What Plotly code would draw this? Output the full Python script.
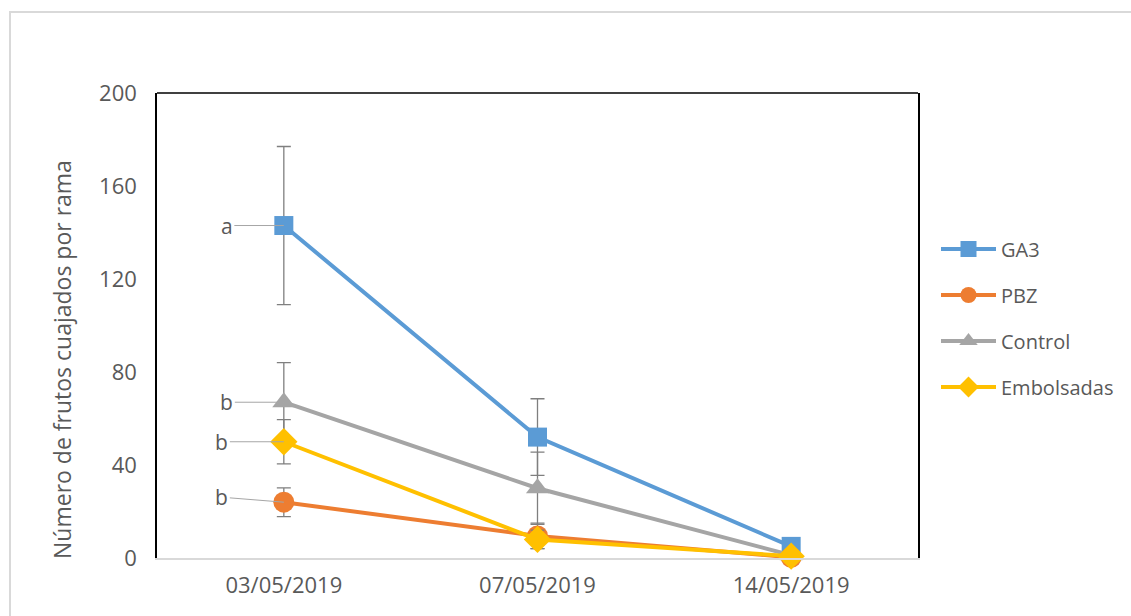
import plotly.graph_objects as go

# Fechas de muestreo
fechas = ["03/05/2019", "07/05/2019", "14/05/2019"]

# Frutos cuajados por rama (media) y error estándar por tratamiento
ga3 = [143, 52, 5]
ga3_err = [34, 16.5, 0]
pbz = [24, 9.5, 0.3]
pbz_err = [6.2, 5.5, 0]
control = [67, 30, 1.2]
control_err = [17, 15.5, 0]
embolsadas = [50, 8, 0.8]
embolsadas_err = [9.5, 4, 0]

# Letras de significancia en la primera fecha
letras = ["a", "b", "b", "b"]

FONT = "Open Sans"
TXT = "#595959"

series = [
    ("GA3", ga3, ga3_err, "#5B9BD5", "square", 19),
    ("PBZ", pbz, pbz_err, "#ED7D31", "circle", 21),
    ("Control", control, control_err, "#A5A5A5", "triangle-up", 20),
    ("Embolsadas", embolsadas, embolsadas_err, "#FFC000", "diamond", 21),
]

fig = go.Figure()
for name, vals, errs, color, sym, size in series:
    fig.add_trace(go.Scatter(
        x=fechas, y=vals, name=name, mode="lines+markers",
        legendgroup=name,
        line=dict(color=color, width=4),
        marker=dict(color=color, symbol=sym, size=size),
        error_y=dict(type="data", array=errs, visible=True,
                     color="#7f7f7f", thickness=1.3, width=7),
        cliponaxis=False,
    ))

# Letras con líneas guía hacia el primer punto de cada serie
offsets = [(-57, 0), (-62, -5), (-57, 0), (-62, 0)]
for (name, vals, _, _, _, _), letra, (ax, ay) in zip(series, letras, offsets):
    fig.add_annotation(
        x=fechas[0], y=vals[0], text=letra, showarrow=True,
        ax=ax, ay=ay, arrowhead=0, arrowwidth=1, arrowcolor="#a6a6a6",
        standoff=0, startstandoff=0,
        font=dict(family=FONT, size=21, color=TXT),
    )

L, R, T, B = 157, 213, 93, 58
W, H = 1131, 616
pw, ph = W - L - R, H - T - B

# Título del eje Y
fig.add_annotation(
    xref="paper", yref="paper", x=(62 - L) / pw, y=(H - B - 360) / ph,
    text="Número de frutos cuajados por rama", textangle=-90,
    showarrow=False, xanchor="center", yanchor="middle",
    font=dict(family=FONT, size=23, color=TXT),
)

# Marco exterior del gráfico
fig.add_shape(type="rect", xref="paper", yref="paper",
              x0=(10 - L) / pw, x1=(W + 20 - L) / pw,
              y0=(H - B - (H + 20)) / ph, y1=(H - B - 12) / ph,
              line=dict(color="#d9d9d9", width=2), layer="below")
# Borde superior del área de trazado
fig.add_shape(type="line", xref="paper", yref="paper",
              x0=0, x1=1, y0=1, y1=1, line=dict(color="black", width=1.5))

fig.update_layout(
    width=W, height=H,
    margin=dict(l=L, r=R, t=T, b=B, autoexpand=False),
    paper_bgcolor="white", plot_bgcolor="white",
    font=dict(family=FONT, size=20, color=TXT),
    showlegend=True,
    legend=dict(x=(936 - L) / pw, y=(H - B - 318) / ph, xanchor="left", yanchor="middle",
                font=dict(family=FONT, size=20, color=TXT),
                tracegroupgap=17, itemwidth=55, bgcolor="rgba(0,0,0,0)"),
    xaxis=dict(type="category", range=[-0.5, 2.5], showgrid=False,
               showline=True, linecolor="#d9d9d9", linewidth=1.5,
               ticks="", ticklabelstandoff=7,
               tickfont=dict(family=FONT, size=22, color=TXT)),
    yaxis=dict(range=[0, 200], dtick=40, tick0=0, showgrid=False, zeroline=False,
               showline=True, linecolor="black", linewidth=1.5, mirror=True,
               ticks="", ticklabelstandoff=14,
               tickfont=dict(family=FONT, size=22, color=TXT)),
)

fig.write_html("out.html")
